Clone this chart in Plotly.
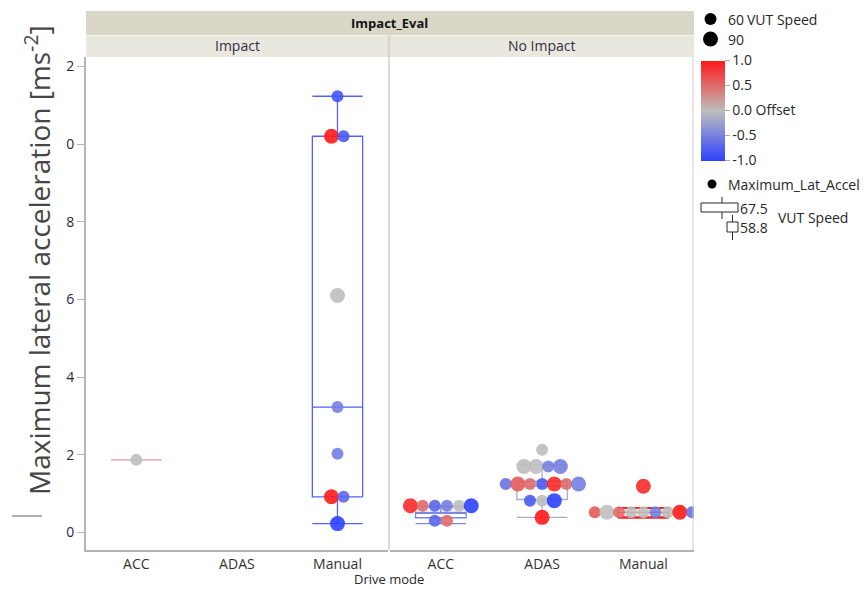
import plotly.graph_objects as go

# ---- data -------------------------------------------------------------
DRIVE_MODES = ["ACC", "ADAS", "Manual"]
PANELS = ["Impact", "No Impact"]
Y_TICK_VALUES = [0, 2, 4, 6, 8, 10, 12]
Y_TICK_LABELS = ["0", "2", "4", "6", "8", "0", "2"]

# Impact panel
IMPACT_ACC_ACCEL = [1.87]
IMPACT_ACC_OFFSET = [0.0]
IMPACT_ACC_SPEED = [60]

IMPACT_MANUAL_ACCEL = [11.23, 10.2, 10.2, 6.1, 3.23, 2.03, 0.92, 0.92, 0.23]
IMPACT_MANUAL_OFFSET = [-0.85, 1.0, -0.8, 0.0, -0.5, -0.5, 1.0, -0.7, -1.0]
IMPACT_MANUAL_SPEED = [60, 90, 60, 90, 60, 60, 90, 60, 90]

# No Impact panel
NOIMP_ACC_ACCEL = [0.69, 0.69, 0.69, 0.69, 0.69, 0.69, 0.30, 0.30]
NOIMP_ACC_OFFSET = [0.9, 0.5, -0.7, -0.5, 0.0, -1.0, -0.7, 0.5]
NOIMP_ACC_SPEED = [90, 60, 60, 60, 60, 90, 60, 60]

NOIMP_ADAS_ACCEL = [2.13, 1.70, 1.70, 1.70, 1.70,
                    1.25, 1.25, 1.25, 1.25, 1.25, 1.25, 1.25,
                    0.82, 0.82, 0.82, 0.39]
NOIMP_ADAS_OFFSET = [0.0, 0.0, 0.0, -0.5, -0.5,
                     -0.6, 0.6, 0.5, -0.8, 0.9, 0.5, -0.5,
                     -0.8, 0.0, -1.0, 1.0]
NOIMP_ADAS_SPEED = [60, 90, 90, 60, 90,
                    60, 90, 60, 60, 90, 60, 90,
                    60, 60, 90, 90]

NOIMP_MANUAL_ACCEL = [1.19, 0.52, 0.52, 0.52, 0.52, 0.52, 0.52, 0.52, 0.52, 0.52]
NOIMP_MANUAL_OFFSET = [0.9, 0.6, 0.0, 0.5, 0.0, 0.0, -0.5, 0.0, 1.0, -0.6]
NOIMP_MANUAL_SPEED = [90, 60, 90, 60, 60, 60, 60, 60, 90, 60]

# box summaries: (panel, mode, lower fence, q1, median, q3, upper fence, colour)
BOX_PANEL = [0, 0, 1, 1, 1]
BOX_MODE = [0, 2, 0, 1, 2]
BOX_LOWER = [1.87, 0.23, 0.23, 0.39, 0.37]
BOX_Q1 = [1.87, 0.92, 0.38, 0.85, 0.40]
BOX_MEDIAN = [1.87, 3.23, 0.52, 1.19, 0.52]
BOX_Q3 = [1.87, 10.2, 0.52, 1.32, 0.62]
BOX_UPPER = [1.87, 11.23, 0.67, 1.74, 0.64]
BOX_COLOR = ["rgb(218,150,150)", "rgb(80,100,250)", "rgb(125,135,225)",
             "rgb(165,170,215)", "rgb(240,35,35)"]

GROUPS = [
    (0, 0, IMPACT_ACC_ACCEL, IMPACT_ACC_OFFSET, IMPACT_ACC_SPEED),
    (0, 2, IMPACT_MANUAL_ACCEL, IMPACT_MANUAL_OFFSET, IMPACT_MANUAL_SPEED),
    (1, 0, NOIMP_ACC_ACCEL, NOIMP_ACC_OFFSET, NOIMP_ACC_SPEED),
    (1, 1, NOIMP_ADAS_ACCEL, NOIMP_ADAS_OFFSET, NOIMP_ADAS_SPEED),
    (1, 2, NOIMP_MANUAL_ACCEL, NOIMP_MANUAL_OFFSET, NOIMP_MANUAL_SPEED),
]

COLORSCALE = [[0.0, "rgb(45,65,255)"], [0.5, "rgb(190,190,190)"], [1.0, "rgb(255,25,25)"]]
SWARM_STEP = 0.12  # horizontal spacing between points sharing a value


def swarm_positions(center, values):
    """Centre each run of equal values as a row of side-by-side points."""
    counts = {}
    for v in values:
        counts[v] = counts.get(v, 0) + 1
    seen = {}
    xs = []
    for v in values:
        i = seen.get(v, 0)
        seen[v] = i + 1
        xs.append(center + (i - (counts[v] - 1) / 2) * SWARM_STEP)
    return xs


def speed_size(s):
    return 12 + (s - 60) / 30 * 3


# ---- geometry helpers (pixel -> paper) -------------------------------
L, R, T, B = 86, 694, 57, 550
W, H = 868, 589


def px(x):
    return (x - L) / (R - L)


def py(y):
    return (B - y) / (B - T)


fig = go.Figure()
axis_names = ["x", "x2"]

first = True
for panel, mode, acc, off, spd in GROUPS:
    fig.add_trace(go.Scatter(
        x=swarm_positions(mode, acc), y=acc, mode="markers",
        xaxis=axis_names[panel], yaxis="y",
        marker=dict(
            size=[speed_size(s) for s in spd], color=off, cmin=-1, cmax=1,
            colorscale=COLORSCALE, opacity=0.9, line=dict(width=0),
            showscale=first,
            colorbar=dict(
                x=px(701), xanchor="left", y=py(110.5), yanchor="middle",
                len=100, lenmode="pixels", thickness=24, xpad=0, ypad=0,
                outlinewidth=0, ticks="outside", ticklen=5,
                tickcolor="rgb(170,170,170)",
                tickvals=[-1, -0.5, 0, 0.5, 1],
                ticktext=["-1.0", "-0.5", "0.0 Offset", "0.5", "1.0"],
                tickfont=dict(size=14, color="rgb(40,40,40)"),
            ),
        ),
        showlegend=False, hoverinfo="y",
    ))
    first = False

for i in range(len(BOX_Q1)):
    fig.add_trace(go.Box(
        x=[BOX_MODE[i]], q1=[BOX_Q1[i]], median=[BOX_MEDIAN[i]], q3=[BOX_Q3[i]],
        lowerfence=[BOX_LOWER[i]], upperfence=[BOX_UPPER[i]],
        xaxis=axis_names[BOX_PANEL[i]], yaxis="y",
        width=0.5, whiskerwidth=1, boxpoints=False,
        line=dict(color=BOX_COLOR[i], width=1.3),
        fillcolor="rgba(0,0,0,0)", showlegend=False,
    ))

split = px(389)
xaxis_common = dict(
    range=[-0.5, 2.5], tickvals=[0, 1, 2], ticktext=DRIVE_MODES,
    showgrid=False, zeroline=False, showline=True,
    linecolor="rgb(180,180,180)", linewidth=2, ticks="",
    tickfont=dict(size=14, color="rgb(50,50,50)"), anchor="y",
)

fig.update_layout(
    width=W, height=H,
    margin=dict(l=L, r=W - R, t=T, b=H - B),
    paper_bgcolor="white", plot_bgcolor="white",
    font=dict(family="Open Sans", color="rgb(40,40,40)"),
    xaxis=dict(domain=[0, split - 0.002], **xaxis_common),
    xaxis2=dict(domain=[split + 0.002, 1], **xaxis_common),
    yaxis=dict(
        range=[-0.45, 12.24], tickvals=Y_TICK_VALUES, ticktext=Y_TICK_LABELS,
        showgrid=False, zeroline=False, showline=True,
        linecolor="rgb(180,180,180)", linewidth=2,
        ticks="outside", ticklen=7, tickcolor="rgb(180,180,180)",
        tickfont=dict(size=14, color="rgb(40,40,60)"),
    ),
    showlegend=False,
)

shapes = []
# header bands
shapes.append(dict(type="rect", xref="paper", yref="paper",
                   x0=0, x1=1, y0=py(35), y1=py(11),
                   fillcolor="rgb(217,215,200)", line=dict(width=0), layer="below"))
shapes.append(dict(type="rect", xref="paper", yref="paper",
                   x0=0, x1=1, y0=py(57), y1=py(35.5),
                   fillcolor="rgb(233,232,223)", line=dict(width=0), layer="below"))
shapes.append(dict(type="line", xref="paper", yref="paper",
                   x0=split, x1=split, y0=py(57), y1=py(35.5),
                   line=dict(color="rgb(218,216,204)", width=3)))
# panel divider and right frame
shapes.append(dict(type="line", xref="paper", yref="paper",
                   x0=split, x1=split, y0=0, y1=1,
                   line=dict(color="rgb(218,218,218)", width=2)))
shapes.append(dict(type="line", xref="paper", yref="paper",
                   x0=px(693), x1=px(693), y0=0, y1=1,
                   line=dict(color="rgb(205,205,205)", width=1)))
# small mark left of the axis title
shapes.append(dict(type="line", xref="paper", yref="paper",
                   x0=px(12), x1=px(42), y0=py(516), y1=py(516),
                   line=dict(color="rgb(175,175,175)", width=2)))


def dot(cx, cy, d):
    return dict(type="circle", xref="paper", yref="paper",
                x0=px(cx - d / 2), x1=px(cx + d / 2),
                y0=py(cy + d / 2), y1=py(cy - d / 2),
                fillcolor="black", line=dict(width=0))


# size legend dots
shapes.append(dot(710.5, 19, 12))
shapes.append(dot(710.5, 39, 15))
shapes.append(dot(712, 184, 9))

# box legend icons
def seg(x0, y0, x1, y1):
    return dict(type="line", xref="paper", yref="paper",
                x0=px(x0), x1=px(x1), y0=py(y0), y1=py(y1),
                line=dict(color="rgb(40,40,40)", width=1))


shapes.append(dict(type="rect", xref="paper", yref="paper",
                   x0=px(701), x1=px(738), y0=py(212), y1=py(203),
                   line=dict(color="rgb(40,40,40)", width=1)))
shapes.append(seg(722, 197, 722, 203))
shapes.append(seg(722, 212, 722, 219))
shapes.append(dict(type="rect", xref="paper", yref="paper",
                   x0=px(727), x1=px(738), y0=py(232), y1=py(222),
                   line=dict(color="rgb(40,40,40)", width=1)))
shapes.append(seg(732.5, 215, 732.5, 222))
shapes.append(seg(732.5, 232, 732.5, 240))

fig.update_layout(shapes=shapes)

ann = []


def text(x, y, s, size=14, xanchor="left", color="rgb(40,40,40)", **kw):
    ann.append(dict(xref="paper", yref="paper", x=px(x), y=py(y), text=s,
                    showarrow=False, xanchor=xanchor, yanchor="middle",
                    font=dict(size=size, color=color), **kw))


text(389, 23, "<b>Impact_Eval</b>", size=13, xanchor="center", color="rgb(20,20,20)")
text(237.5, 46, PANELS[0], xanchor="center", color="rgb(55,45,70)")
text(541.5, 46, PANELS[1], xanchor="center", color="rgb(55,45,70)")
text(389, 579, "Drive mode", size=13, xanchor="center")
text(37, 260, "Maximum lateral acceleration [ms<sup>-2</sup>]", size=28,
     xanchor="center", color="rgb(70,70,70)", textangle=-90)
text(726, 19, "60", xanchor="left")
text(745, 19, "VUT Speed", xanchor="left")
text(726, 39, "90", xanchor="left")
text(726, 184, "Maximum_Lat_Accel", xanchor="left")
text(738, 208, "67.5", xanchor="left")
text(738, 227, "58.8", xanchor="left")
text(776, 218, "VUT Speed", xanchor="left")

fig.update_layout(annotations=ann)

fig.write_html("out.html")
